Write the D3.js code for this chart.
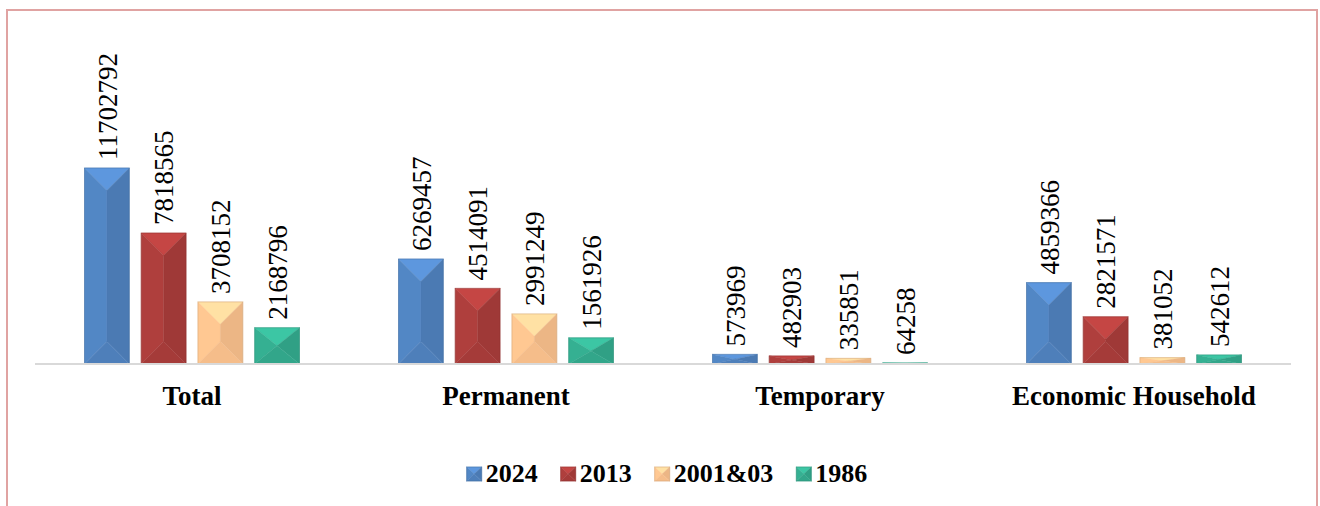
<!DOCTYPE html>
<html>
<head>
<meta charset="utf-8">
<script src="https://cdn.jsdelivr.net/npm/d3@7"></script>
<style>
  body { margin: 0; background: #fff; }
  svg text { font-family: "Liberation Serif", "Times New Roman", serif; fill: #000; }
</style>
</head>
<body>
<div id="chart"></div>
<script>
// categories and series
var categories = ["Total", "Permanent", "Temporary", "Economic Household"];
var years = ["2024", "2013", "2001&03", "1986"];
var values2024 = [11702792, 6269457, 573969, 4859366];
var values2013 = [7818565, 4514091, 482903, 2821571];
var values2001 = [3708152, 2991249, 335851, 381052];
var values1986 = [2168796, 1561926, 64258, 542612];
var seriesValues = [values2024, values2013, values2001, values1986];
var colors = ["#4f81bd", "#a83c3a", "#f9c08c", "#33a98c"];

var svgWidth = 1320;
var svgHeight = 506;
var serif = "'Liberation Serif', 'Times New Roman', serif";

var svg = d3.select("#chart")
    .append("svg")
    .attr("width", svgWidth)
    .attr("height", svgHeight);

// pink frame (bottom edge runs off the picture)
svg.append("rect")
    .attr("x", 7)
    .attr("y", 10)
    .attr("width", 1310)
    .attr("height", 520)
    .attr("fill", "none")
    .attr("stroke", "#e0a3a2")
    .attr("stroke-width", 2);

var baseY = 364;

var x0 = d3.scaleBand()
    .domain(categories)
    .range([35, 1291]);

var x1 = d3.scaleBand()
    .domain(years)
    .range([49.5, 264.5])
    .paddingInner(0.21);

var y = d3.scaleLinear()
    .domain([0, 14000000])
    .range([baseY, 129.5]);

// draws a bevelled (hip roof) box
function bevelBox(g, x, yTop, w, h, base) {
    if (h <= 0) return;
    var c = d3.color(base);
    var dx = w / 2;
    var dy = Math.min(w / 2, h / 2);
    var x2 = x + w, y2 = yTop + h;
    var faces = [
        { pts: [[x, yTop], [x2, yTop], [x + dx, yTop + dy]], col: c.brighter(0.45) },
        { pts: [[x, yTop], [x + dx, yTop + dy], [x + dx, y2 - dy], [x, y2]], col: c.brighter(0.12) },
        { pts: [[x2, yTop], [x2, y2], [x + dx, y2 - dy], [x + dx, yTop + dy]], col: c.darker(0.15) },
        { pts: [[x, y2], [x + dx, y2 - dy], [x2, y2]], col: c.darker(0.05) }
    ];
    faces.forEach(function (f) {
        g.append("polygon")
            .attr("points", f.pts.map(p => p.join(",")).join(" "))
            .attr("fill", f.col)
            .attr("stroke", f.col)
            .attr("stroke-width", 0.4);
    });
    g.append("rect")
        .attr("x", x)
        .attr("y", yTop)
        .attr("width", w)
        .attr("height", h)
        .attr("fill", "none")
        .attr("stroke", c.darker(0.5))
        .attr("stroke-opacity", 0.5)
        .attr("stroke-width", 1);
}

var barsGroup = svg.append("g");
var labelGroup = svg.append("g");

categories.forEach(function (cat, i) {
    years.forEach(function (yr, j) {
        var v = seriesValues[j][i];
        var bx = x0(cat) + x1(yr);
        var bw = x1.bandwidth();
        var top = y(v);
        bevelBox(barsGroup.append("g"), bx, top, bw, baseY - top, colors[j]);

        var cx = bx + bw / 2;
        labelGroup.append("text")
            .attr("transform", `translate(${cx}, ${top - 8}) rotate(-90)`)
            .attr("dy", "0.36em")
            .attr("font-family", serif)
            .attr("font-size", 27)
            .text(v);
    });
});

// baseline
svg.append("line")
    .attr("x1", 35)
    .attr("x2", 1291)
    .attr("y1", baseY)
    .attr("y2", baseY)
    .attr("stroke", "#d9d9d9")
    .attr("stroke-width", 2);

// category labels
svg.append("g")
    .selectAll("text")
    .data(categories)
    .enter()
    .append("text")
    .attr("x", d => x0(d) + x0.bandwidth() / 2)
    .attr("y", 405)
    .attr("text-anchor", "middle")
    .attr("font-family", serif)
    .attr("font-size", 27)
    .attr("font-weight", "bold")
    .text(d => d);

// legend
var legend = svg.append("g");
var cursor = 0;
years.forEach(function (yr, j) {
    var item = legend.append("g").attr("transform", `translate(${cursor}, 0)`);
    bevelBox(item, 0, 467, 15, 14, colors[j]);
    var t = item.append("text")
        .attr("x", 19)
        .attr("y", 482)
        .attr("font-family", serif)
        .attr("font-size", 26)
        .attr("font-weight", "bold")
        .text(yr);
    cursor += 19 + t.node().getComputedTextLength() + 23;
});
var legendWidth = cursor - 23;
legend.attr("transform", `translate(${667 - legendWidth / 2}, 0)`);
</script>
</body>
</html>
